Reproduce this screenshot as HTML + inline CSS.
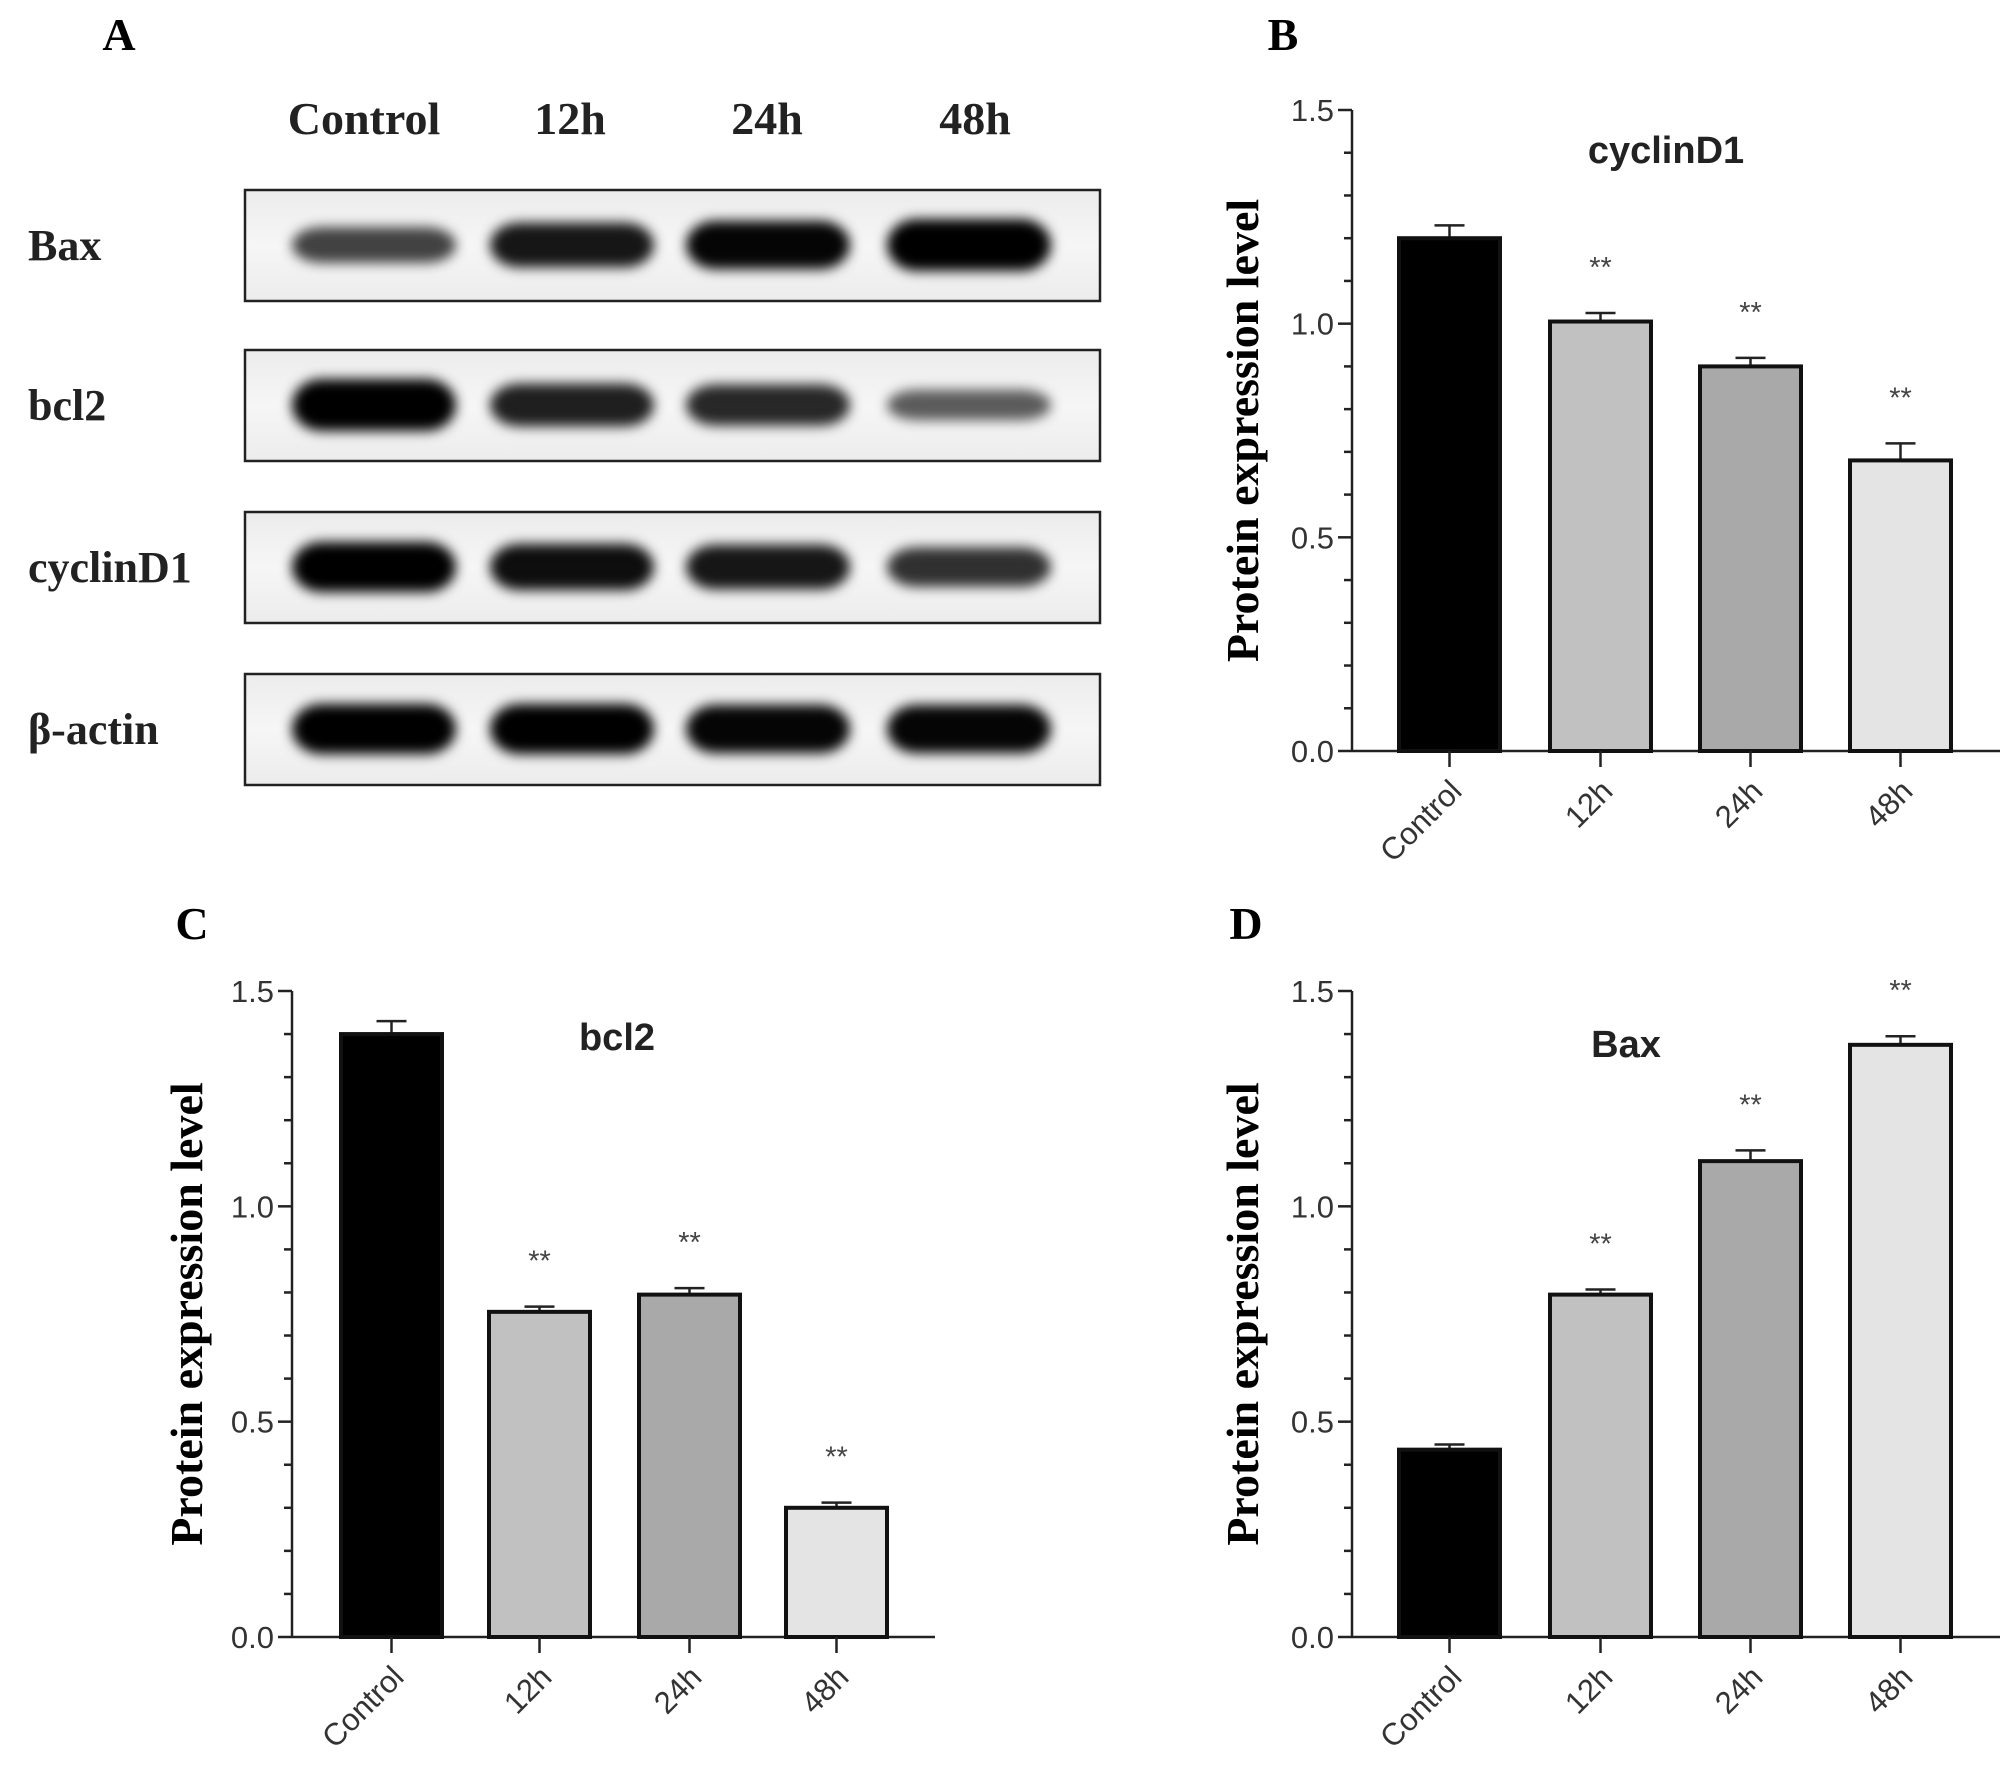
<!DOCTYPE html>
<html><head><meta charset="utf-8"><style>
body{margin:0;background:#fff}
svg{display:block}
.serif{font-family:"Liberation Serif",serif;font-weight:bold}
.sans{font-family:"Liberation Sans",sans-serif}
</style></head><body>
<svg id="fig" width="2008" height="1770" viewBox="0 0 2008 1770" xmlns="http://www.w3.org/2000/svg">
<defs><filter id="blur" x="-20%" y="-50%" width="140%" height="200%"><feGaussianBlur stdDeviation="6"/></filter>
<linearGradient id="bg" x1="0" x2="0" y1="0" y2="1"><stop offset="0" stop-color="#ececec"/><stop offset="0.5" stop-color="#f6f6f6"/><stop offset="1" stop-color="#ececec"/></linearGradient></defs>
<g id="blot"></g>
<g id="charts"></g>
</svg>
<script>
const NS="http://www.w3.org/2000/svg";
const svg=document.getElementById('fig');
function mk(tag,attrs,parent,text){const e=document.createElementNS(NS,tag);for(const k in attrs)e.setAttribute(k,attrs[k]);if(text!==undefined)e.textContent=text;(parent||svg).appendChild(e);return e;}

// ---- data ----
const categories=["Control","12h","24h","48h"];
const cyclinValues=[1.20,1.005,0.90,0.68];
const cyclinErrors=[0.03,0.02,0.02,0.04];
const bcl2Values=[1.40,0.755,0.795,0.30];
const bcl2Errors=[0.03,0.012,0.015,0.012];
const baxValues=[0.435,0.795,1.105,1.375];
const baxErrors=[0.012,0.012,0.025,0.02];
const yTicks=[0.0,0.5,1.0,1.5];
const sigMarks=[["","**","**","**"],["","**","**","**"],["","**","**","**"]];
const blotRows=["Bax","bcl2","cyclinD1","β-actin"];
const bandIntensity=[[0.55,0.8,0.9,1.0],[1.0,0.75,0.7,0.4],[0.95,0.85,0.8,0.65],[0.95,0.95,0.9,0.9]];

// ---- panel A ----
const blot=document.getElementById('blot');
let t=mk('text',{x:119,y:50,'font-size':46,'text-anchor':'middle',class:'serif'},blot,"A");

const laneX=[374,572,768,969];
const labelX=[364,570,767,975];
categories.forEach((c,i)=>{const e=mk('text',{x:labelX[i],y:134,'font-size':46,'text-anchor':'middle',class:'serif',fill:'#222'},blot,c);
});
const boxTop=[190,350,512,674];
blotRows.forEach((r,ri)=>{
  const y=boxTop[ri];
  const lab=mk('text',{x:28,y:y+70,'font-size':44,class:'serif',fill:'#222'},blot,r);
  
  const g=mk('g',{},blot);
  
  mk('rect',{x:245,y:y,width:855,height:111,fill:'url(#bg)'},g);
  bandIntensity[ri].forEach((v,li)=>{
    const b=mk('rect',{x:laneX[li]-82,y:y+55-18*v-8,width:164,height:36*v+16,rx:30,fill:'#000','fill-opacity':Math.min(1,0.35+0.7*v),filter:'url(#blur)'},g);
    
  });
  mk('rect',{x:245,y:y,width:855,height:111,fill:'none',stroke:'#222','stroke-width':2.5},g);
});

// ---- bar charts ----
const fills=["#000","#c1c1c1","#a9a9a9","#e4e4e4"];
function chart(opt){
  const g=mk('g',{},document.getElementById('charts'));
  
  const y0=opt.y0,y15=opt.y15,ax=opt.ax;
  const yScale=v=>y0-(y0-y15)*v/1.5;
  const barL=opt.barL,bw=opt.bw;
  const pl=mk('text',{x:opt.plx,y:opt.ply,'font-size':46,'text-anchor':'middle',class:'serif'},g,opt.panel);
  
  mk('line',{x1:ax,y1:y15,x2:ax,y2:y0,stroke:'#222','stroke-width':2.5},g);
  for(let k=0;k<=15;k++){const v=k/10;const major=k%5===0;
    mk('line',{x1:ax-(major?14:8),x2:ax,y1:yScale(v),y2:yScale(v),stroke:'#222','stroke-width':2.5},g);}
  yTicks.forEach(v=>{const e=mk('text',{x:ax-18,y:yScale(v)+11,'font-size':31,'text-anchor':'end',class:'sans',fill:'#333'},g,v.toFixed(1));
    });
  mk('line',{x1:ax,x2:opt.axEnd,y1:y0,y2:y0,stroke:'#222','stroke-width':2.5},g);
  const yl=mk('text',{x:0,y:0,'font-size':46,'text-anchor':'middle',class:'serif',transform:`translate(${opt.ylx},${(y0+y15)/2}) rotate(-90)`},g,"Protein expression level");
  
  const tt=mk('text',{x:opt.tx,y:opt.ty,'font-size':38,'font-weight':'bold','text-anchor':'middle',class:'sans',fill:'#222'},g,opt.title);
  
  opt.values.forEach((v,i)=>{
    const x=barL[i],cx=x+bw/2;
    const et=yScale(v+opt.errs[i]);
    mk('line',{x1:cx,x2:cx,y1:yScale(v),y2:et,stroke:'#222','stroke-width':2.5},g);
    mk('line',{x1:cx-15,x2:cx+15,y1:et,y2:et,stroke:'#222','stroke-width':2.5},g);
    const r=mk('rect',{x:x,y:yScale(v),width:bw,height:y0-yScale(v),fill:fills[i],stroke:'#111','stroke-width':4},g);
    
    mk('line',{x1:cx,x2:cx,y1:y0,y2:y0+16,stroke:'#222','stroke-width':2.5},g);
    const xl=mk('text',{x:0,y:0,'font-size':31,'text-anchor':'end',class:'sans',fill:'#333',transform:`translate(${cx+14},${y0+42}) rotate(-45)`},g,categories[i]);
    
    if(opt.sig[i]){const s=mk('text',{x:cx,y:et-36,'font-size':29,'text-anchor':'middle',class:'sans',fill:'#444'},g,opt.sig[i]);
      }
  });
}
chart({name:'cyclind1-chart',panel:'B',plx:1283,ply:50,y0:751,y15:110,ax:1352,axEnd:2000,barL:[1399,1550,1700,1850],bw:101,
  values:cyclinValues,errs:cyclinErrors,sig:sigMarks[0],title:'cyclinD1',tx:1666,ty:163,ylx:1258});
chart({name:'bcl2-chart',panel:'C',plx:192,ply:939,y0:1637,y15:991,ax:292,axEnd:935,barL:[341,489,639,786],bw:101,
  values:bcl2Values,errs:bcl2Errors,sig:sigMarks[1],title:'bcl2',tx:617,ty:1050,ylx:202});
chart({name:'bax-chart',panel:'D',plx:1246,ply:939,y0:1637,y15:991,ax:1352,axEnd:2000,barL:[1399,1550,1700,1850],bw:101,
  values:baxValues,errs:baxErrors,sig:sigMarks[2],title:'Bax',tx:1626,ty:1057,ylx:1258});
</script>
</body></html>
